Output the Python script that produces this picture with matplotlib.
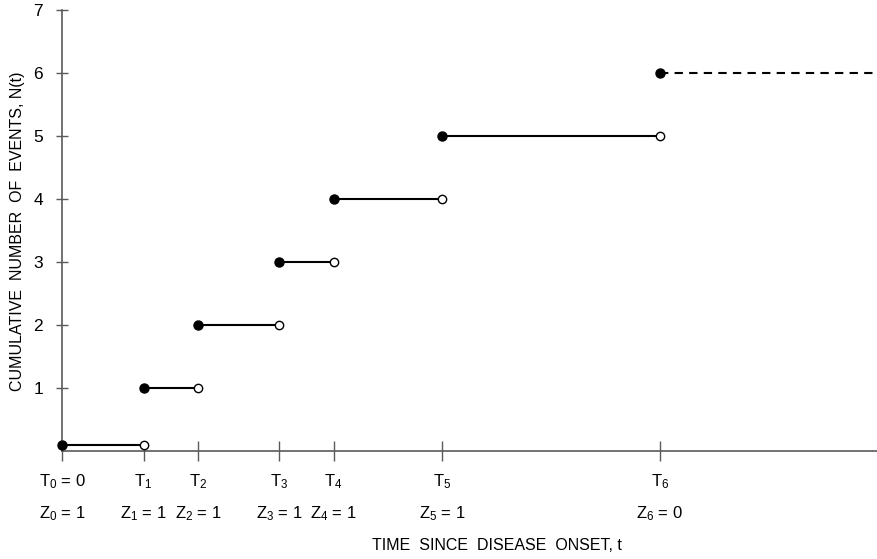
import matplotlib
matplotlib.use("Agg")
import matplotlib.pyplot as plt
from matplotlib.transforms import blended_transform_factory

plt.rcParams['font.family'] = ['Liberation Sans', 'DejaVu Sans']
plt.rcParams['mathtext.fontset'] = 'custom'
plt.rcParams['mathtext.rm'] = 'Liberation Sans'
plt.rcParams['mathtext.it'] = 'Liberation Sans'

# Event times (arbitrary time units) and counts
event_times = [0, 3, 5, 8, 10, 14, 22]
counts = [0.1, 1, 2, 3, 4, 5, 6]
z_values = [1, 1, 1, 1, 1, 1, 0]
t_labels = ["T$_0$ = 0", "T$_1$", "T$_2$", "T$_3$", "T$_4$", "T$_5$", "T$_6$"]
z_labels = ["Z$_%d$ = %d" % (i, z) for i, z in enumerate(z_values)]
x_max = 30
y_ticks = [1, 2, 3, 4, 5, 6, 7]

fig = plt.figure(figsize=(8.77, 5.59), dpi=100)
ax = fig.add_axes([62/877, 1-451/559, 1-62/877, (451-10)/559])
ax.set_xlim(0, x_max)
ax.set_ylim(0, 7)

axis_col = '#5a5a5a'
for s in ['top', 'right']:
    ax.spines[s].set_visible(False)
for s in ['left', 'bottom']:
    ax.spines[s].set_color(axis_col)
    ax.spines[s].set_linewidth(1.2)
ax.spines['left'].set_zorder(0)
ax.spines['bottom'].set_zorder(0)

# steps
for i in range(len(event_times) - 1):
    ax.plot([event_times[i], event_times[i+1]], [counts[i], counts[i]],
            color='black', lw=1.5, zorder=2, solid_capstyle='butt')
    ax.plot(event_times[i+1], counts[i], 'o', mfc='white', mec='black',
            ms=6, mew=1.0, zorder=3, clip_on=False)
ax.plot(event_times, counts, 'o', color='black', ms=6.5, zorder=4, clip_on=False)
ax.plot([event_times[-1], x_max], [counts[-1], counts[-1]], color='black',
        lw=1.5, ls=(0, (4, 3)), zorder=2)

ax.set_yticks(y_ticks)
ax.set_yticklabels([str(v) for v in y_ticks], fontsize=12.5)
ax.tick_params(axis='y', direction='inout', length=9, width=1.0, color=axis_col, pad=9)
ax.set_xticks(event_times)
ax.set_xticklabels([])
ax.tick_params(axis='x', direction='inout', length=15, width=1.0, color=axis_col)

trans = blended_transform_factory(ax.transData, fig.transFigure)
for t, tl, zl in zip(event_times, t_labels, z_labels):
    ax.text(t, 1-482/559, tl, transform=trans, ha='center', va='center', fontsize=12)
    ax.text(t, 1-514/559, zl, transform=trans, ha='center', va='center', fontsize=12)

fig.text(497/877, 1-545/559, "TIME  SINCE  DISEASE  ONSET, t", ha='center', va='center', fontsize=11.5)
fig.text(18/877, 1-231/559, "CUMULATIVE  NUMBER  OF  EVENTS, N(t)", ha='center', va='center',
         rotation=90, fontsize=11.5)

fig.savefig("out.png", dpi=100)
